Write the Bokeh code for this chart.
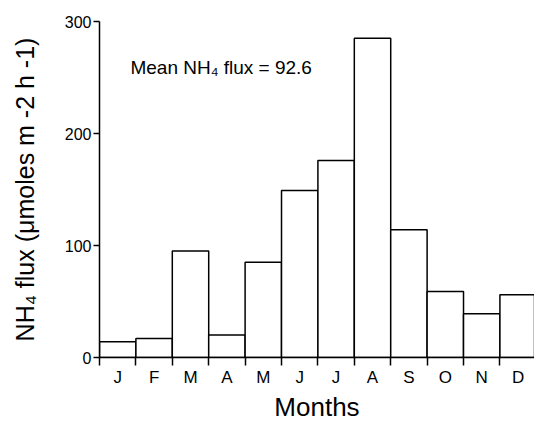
from bokeh.plotting import figure
from bokeh.models import Range1d, FixedTicker, Label, ColumnDataSource
from bokeh.embed import file_html
from bokeh.resources import INLINE

months = ["J", "F", "M", "A", "M", "J", "J", "A", "S", "O", "N", "D"]
flux = [14, 17, 95, 20, 85, 149, 176, 285, 114, 59, 39, 56]
y_ticks = [0, 100, 200, 300]
mean_flux = 92.6

FONT = "Liberation Sans"

xs = [i + 0.5 for i in range(len(months))]
src = ColumnDataSource(dict(x=xs, top=flux, label=months))

p = figure(width=534, height=424, output_backend="svg", toolbar_location=None,
           x_range=Range1d(0, 11.95), y_range=Range1d(0, 300),
           min_border_left=99, min_border_right=0, min_border_top=21,
           min_border_bottom=66)
p.outline_line_color = None
p.grid.visible = False
p.background_fill_color = "white"
p.border_fill_color = "white"

p.vbar(x="x", top="top", bottom=0, width=1.0, source=src,
       fill_color="white", line_color="black", line_width=1.5)

# x axis
xa = p.xaxis[0]
xa.ticker = FixedTicker(ticks=xs, minor_ticks=list(range(len(months) + 1)))
xa.major_label_overrides = {x: m for x, m in zip(xs, months)}
xa.major_tick_out = 0
xa.major_tick_in = 0
xa.minor_tick_out = 8
xa.minor_tick_in = 0
xa.minor_tick_line_color = "black"
xa.minor_tick_line_width = 1.5
xa.axis_line_color = "black"
xa.axis_line_width = 1.5
xa.major_label_text_font = FONT
xa.major_label_text_font_size = "17px"
xa.major_label_text_color = "black"
xa.major_label_standoff = 2
xa.axis_label = "Months"
xa.axis_label_text_font = FONT
xa.axis_label_text_font_size = "26px"
xa.axis_label_text_font_style = "normal"
xa.axis_label_text_color = "black"
xa.axis_label_standoff = 2

# y axis
ya = p.yaxis[0]
ya.ticker = FixedTicker(ticks=y_ticks, minor_ticks=[])
ya.major_tick_out = 6
ya.major_tick_in = 0
ya.major_tick_line_width = 1.5
ya.axis_line_width = 1.5
ya.major_label_text_font = FONT
ya.major_label_text_font_size = "16px"
ya.major_label_text_color = "black"
ya.major_label_standoff = 2
ya.major_label_orientation = "horizontal"
ya.axis_label = "NH\u2084 flux (\u03bcmoles m -2 h -1)"
ya.axis_label_text_font = FONT
ya.axis_label_text_font_size = "25px"
ya.axis_label_text_font_style = "normal"
ya.axis_label_text_color = "black"
ya.axis_label_standoff = 23

p.add_layout(Label(x=0.85, y=259, text="Mean NH\u2084 flux = " + str(mean_flux),
                   text_font=FONT, text_font_size="19px", text_color="black",
                   text_baseline="alphabetic"))

open("out.html", "w").write(file_html(p, INLINE))
